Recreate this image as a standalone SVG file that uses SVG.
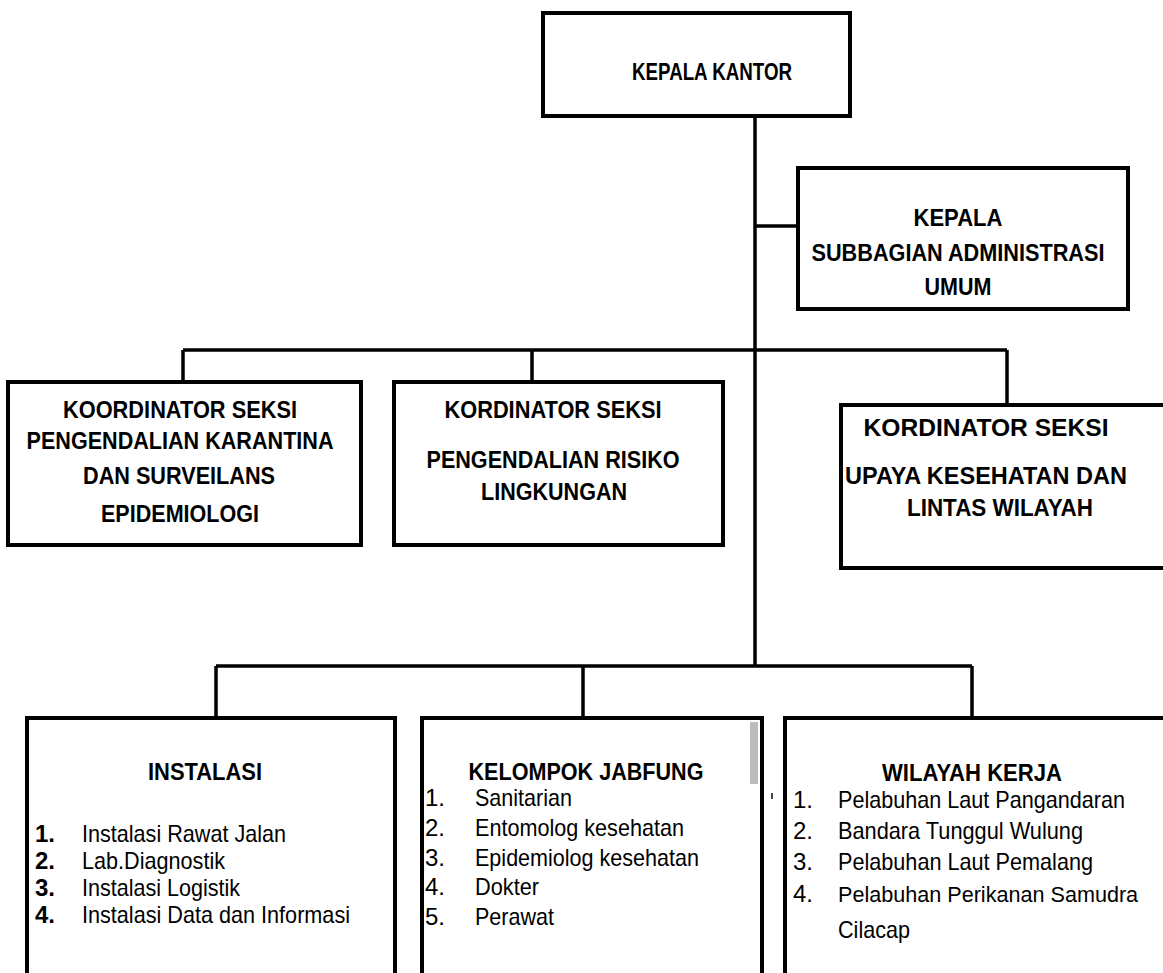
<svg xmlns="http://www.w3.org/2000/svg" width="1163" height="973" viewBox="0 0 1163 973">
<style>
.box{fill:#fff;stroke:#000;stroke-width:4}
.ln{fill:none;stroke:#000;stroke-width:3.5}
.t{font-family:"Liberation Sans",Arial,sans-serif;font-weight:bold;font-size:24.5px;fill:#000;text-anchor:middle}
.l{font-family:"Liberation Sans",Arial,sans-serif;font-size:24px;fill:#000}
.nb{font-family:"Liberation Sans",Arial,sans-serif;font-size:24px;font-weight:bold;fill:#000}
</style>
<rect width="1163" height="973" fill="#fff"/>
<g id="connectors">
<path class="ln" d="M755 116V666"/>
<path class="ln" d="M755 226H798"/>
<path class="ln" d="M183 350H1007M183 350V382M532 350V382M1007 350V405"/>
<path class="ln" d="M216 666H972M216 666V718M583 666V718M972 666V718"/>
</g>
<g id="kepala-kantor">
<rect class="box" x="543" y="13" width="307" height="103"/>
<text class="t" x="712" y="80" font-size="25" textLength="160" lengthAdjust="spacingAndGlyphs">KEPALA KANTOR</text>
</g>
<g id="kasubbag">
<rect class="box" x="798" y="168" width="330" height="141"/>
<text class="t" x="958" y="226" textLength="89" lengthAdjust="spacingAndGlyphs">KEPALA</text>
<text class="t" x="958" y="261" textLength="293" lengthAdjust="spacingAndGlyphs">SUBBAGIAN ADMINISTRASI</text>
<text class="t" x="958" y="295" textLength="67" lengthAdjust="spacingAndGlyphs">UMUM</text>
</g>
<g id="seksi-karantina">
<rect class="box" x="8" y="382" width="353" height="163"/>
<text class="t" x="180" y="418" textLength="234" lengthAdjust="spacingAndGlyphs">KOORDINATOR SEKSI</text>
<text class="t" x="180" y="449" textLength="307" lengthAdjust="spacingAndGlyphs">PENGENDALIAN KARANTINA</text>
<text class="t" x="179" y="484" textLength="192" lengthAdjust="spacingAndGlyphs">DAN SURVEILANS</text>
<text class="t" x="180" y="522" textLength="158" lengthAdjust="spacingAndGlyphs">EPIDEMIOLOGI</text>
</g>
<g id="seksi-risiko">
<rect class="box" x="394" y="382" width="329" height="163"/>
<text class="t" x="553" y="418" textLength="217" lengthAdjust="spacingAndGlyphs">KORDINATOR SEKSI</text>
<text class="t" x="553" y="468" textLength="253" lengthAdjust="spacingAndGlyphs">PENGENDALIAN RISIKO</text>
<text class="t" x="554" y="500" textLength="146" lengthAdjust="spacingAndGlyphs">LINGKUNGAN</text>
</g>
<g id="seksi-upaya">
<rect class="box" x="841" y="405" width="324" height="163"/>
<text class="t" x="986" y="436" textLength="245" lengthAdjust="spacingAndGlyphs">KORDINATOR SEKSI</text>
<text class="t" x="986" y="484" textLength="282" lengthAdjust="spacingAndGlyphs">UPAYA KESEHATAN DAN</text>
<text class="t" x="1000" y="516" textLength="186" lengthAdjust="spacingAndGlyphs">LINTAS WILAYAH</text>
</g>
<g id="instalasi">
<rect class="box" x="27" y="718" width="368" height="270"/>
<text class="t" x="205" y="780" textLength="114" lengthAdjust="spacingAndGlyphs">INSTALASI</text>
<text class="nb" x="35" y="842">1.</text><text class="l" x="82" y="842" textLength="204" lengthAdjust="spacingAndGlyphs">Instalasi Rawat Jalan</text>
<text class="nb" x="35" y="869">2.</text><text class="l" x="82" y="869" textLength="143" lengthAdjust="spacingAndGlyphs">Lab.Diagnostik</text>
<text class="nb" x="35" y="896">3.</text><text class="l" x="82" y="896" textLength="158" lengthAdjust="spacingAndGlyphs">Instalasi Logistik</text>
<text class="nb" x="35" y="923">4.</text><text class="l" x="82" y="923" textLength="268" lengthAdjust="spacingAndGlyphs">Instalasi Data dan Informasi</text>
</g>
<g id="jabfung">
<rect class="box" x="422" y="718" width="340" height="270"/>
<rect x="750" y="722" width="8" height="62" fill="#bdbdbd"/>
<text class="t" x="586" y="780" textLength="235" lengthAdjust="spacingAndGlyphs">KELOMPOK JABFUNG</text>
<text class="l" x="425" y="806">1.</text><text class="l" x="475" y="806" textLength="97" lengthAdjust="spacingAndGlyphs">Sanitarian</text>
<text class="l" x="425" y="836">2.</text><text class="l" x="475" y="836" textLength="209" lengthAdjust="spacingAndGlyphs">Entomolog kesehatan</text>
<text class="l" x="425" y="866">3.</text><text class="l" x="475" y="866" textLength="224" lengthAdjust="spacingAndGlyphs">Epidemiolog kesehatan</text>
<text class="l" x="425" y="895">4.</text><text class="l" x="475" y="895" textLength="64" lengthAdjust="spacingAndGlyphs">Dokter</text>
<text class="l" x="425" y="925">5.</text><text class="l" x="475" y="925" textLength="79" lengthAdjust="spacingAndGlyphs">Perawat</text>
</g>
<rect x="771" y="793" width="2" height="6" fill="#444"/>
<g id="wilayah">
<rect class="box" x="785" y="718" width="380" height="270"/>
<text class="t" x="972" y="781" textLength="180" lengthAdjust="spacingAndGlyphs">WILAYAH KERJA</text>
<text class="l" x="793" y="808">1.</text><text class="l" x="838" y="808" textLength="287" lengthAdjust="spacingAndGlyphs">Pelabuhan Laut Pangandaran</text>
<text class="l" x="793" y="839">2.</text><text class="l" x="838" y="839" textLength="245" lengthAdjust="spacingAndGlyphs">Bandara Tunggul Wulung</text>
<text class="l" x="793" y="870">3.</text><text class="l" x="838" y="870" textLength="255" lengthAdjust="spacingAndGlyphs">Pelabuhan Laut Pemalang</text>
<text class="l" x="793" y="902">4.</text><text class="l" x="838" y="902" style="font-size:21.6px">Pelabuhan Perikanan Samudra</text>
<text class="l" x="838" y="938" textLength="72" lengthAdjust="spacingAndGlyphs">Cilacap</text>
</g>
</svg>
